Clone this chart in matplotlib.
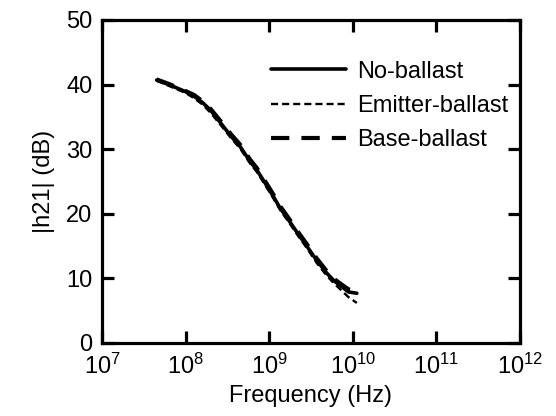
import matplotlib.pyplot as plt
from matplotlib.ticker import NullLocator

plt.rcParams['font.family'] = ['Liberation Sans', 'DejaVu Sans']
plt.rcParams['mathtext.fontset'] = 'custom'
plt.rcParams['mathtext.rm'] = 'Liberation Sans'
plt.rcParams['mathtext.it'] = 'Liberation Sans:italic'
plt.rcParams['font.size'] = 17

# frequency points (Hz)
freq = [4.5e7, 6.3e7, 1.0e8, 1.26e8, 1.6e8, 2.0e8, 2.8e8, 3.5e8, 4.5e8, 5.9e8,
        7.1e8, 8.9e8, 1.12e9, 1.35e9, 1.78e9, 2.24e9, 2.82e9, 3.7e9, 4.9e9,
        6.0e9, 7.1e9, 8.9e9, 1.12e10]

no_ballast = [40.7, 40.0, 38.9, 38.2, 37.2, 36.0, 33.6, 32.0, 30.4, 28.1,
              26.8, 24.8, 22.7, 20.9, 18.7, 16.8, 15.0, 12.8, 10.8,
              9.6, 8.9, 7.9, 7.7]
emitter_ballast = [40.6, 39.8, 38.7, 37.9, 36.9, 35.6, 33.3, 31.7, 30.1, 27.8,
                   26.5, 24.5, 22.4, 20.6, 18.4, 16.5, 14.7, 12.4, 10.4,
                   9.2, 8.3, 7.1, 6.2]
base_ballast = [40.8, 40.1, 39.0, 38.4, 37.4, 36.2, 33.9, 32.3, 30.7, 28.4,
                27.1, 25.1, 23.0, 21.2, 19.0, 17.1, 15.3, 13.1, 11.1,
                9.9, 9.2, 8.3, 8.0]

fig = plt.figure(figsize=(5.56, 4.16), dpi=100)
ax = fig.add_axes([0.1835, 0.1755, 0.7515, 0.7765])

ax.plot(freq, no_ballast, color='black', lw=2.6, solid_capstyle='round', label='No-ballast')
ax.plot(freq, emitter_ballast, color='black', lw=1.7, dashes=(3.0, 1.7), label='Emitter-ballast')
ax.plot(freq, base_ballast, color='black', lw=3.0, dashes=(4.4, 2.9), label='Base-ballast')

ax.set_xscale('log')
ax.set_xlim(1e7, 1e12)
ax.set_ylim(0, 50)
ax.set_xticks([1e7, 1e8, 1e9, 1e10, 1e11, 1e12])
ax.set_yticks([0, 10, 20, 30, 40, 50])
ax.xaxis.set_minor_locator(NullLocator())

for s in ax.spines.values():
    s.set_linewidth(2.3)
ax.tick_params(direction='in', length=8.6, width=2.3, top=True, right=True)
ax.tick_params(axis='y', pad=7)
ax.tick_params(axis='x', pad=8)

ax.set_xlabel('Frequency (Hz)', labelpad=4)
ax.set_ylabel('|h21| (dB)', labelpad=8)

ax.legend(loc='upper right', frameon=False, handlelength=3.2, handletextpad=0.45,
          labelspacing=0.51, borderaxespad=0.3, bbox_to_anchor=(1.012, 0.925))

fig.savefig('out.png', dpi=100)
